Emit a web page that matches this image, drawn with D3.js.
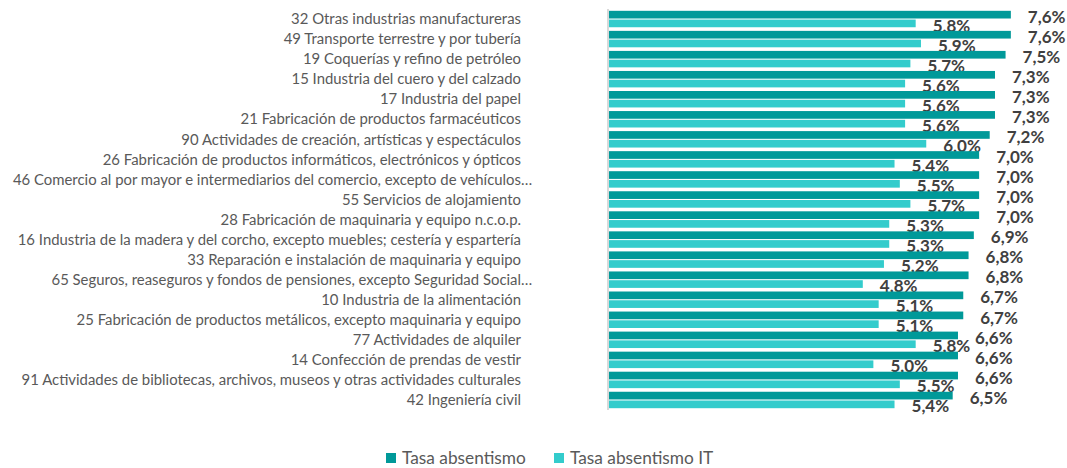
<!DOCTYPE html>
<html>
<head>
<meta charset="utf-8">
<script src="https://cdn.jsdelivr.net/npm/d3@7"></script>
<style>
  body { margin: 0; background: #fff; }
  svg { display: block; font-family: Lato, "Open Sans", sans-serif; }
</style>
</head>
<body>
<svg id="chart" width="1067" height="468"></svg>
<script>
'use strict';

var categories = [
    "32 Otras industrias manufactureras",
    "49 Transporte terrestre y por tubería",
    "19 Coquerías y refino de petróleo",
    "15 Industria del cuero y del calzado",
    "17 Industria del papel",
    "21 Fabricación de productos farmacéuticos",
    "90 Actividades de creación, artísticas y espectáculos",
    "26 Fabricación de productos informáticos, electrónicos y ópticos",
    "46 Comercio al por mayor e intermediarios del comercio, excepto de vehículos…",
    "55 Servicios de alojamiento",
    "28 Fabricación de maquinaria y equipo n.c.o.p.",
    "16 Industria de la madera y del corcho, excepto muebles; cestería y espartería",
    "33 Reparación e instalación de maquinaria y equipo",
    "65 Seguros, reaseguros y fondos de pensiones, excepto Seguridad Social…",
    "10 Industria de la alimentación",
    "25 Fabricación de productos metálicos, excepto maquinaria y equipo",
    "77 Actividades de alquiler",
    "14 Confección de prendas de vestir",
    "91 Actividades de bibliotecas, archivos, museos y otras actividades culturales",
    "42 Ingeniería civil"
];

var tasaAbsentismo = [7.6, 7.6, 7.5, 7.3, 7.3, 7.3, 7.2, 7.0, 7.0, 7.0, 7.0, 6.9, 6.8, 6.8, 6.7, 6.7, 6.6, 6.6, 6.6, 6.5];
var tasaAbsentismoIT = [5.8, 5.9, 5.7, 5.6, 5.6, 5.6, 6.0, 5.4, 5.5, 5.7, 5.3, 5.3, 5.2, 4.8, 5.1, 5.1, 5.8, 5.0, 5.5, 5.4];

var seriesNames = ["Tasa absentismo", "Tasa absentismo IT"];
var seriesColors = ["#009999", "#33cccc"];

var svg = d3.select("#chart");

var x = d3.scaleLinear().domain([0, 8]).range([609, 1032]);
var y = d3.scaleBand().domain(categories).range([9, 410]).paddingInner(0.18).paddingOuter(0.09);
var ySub = d3.scaleBand().domain([0, 1]).range([0, y.bandwidth()]).paddingInner(0.12);

var rows = categories.map(function(c, i) {
    return {cat: c, values: [tasaAbsentismo[i], tasaAbsentismoIT[i]]};
});

var fmt = function(v) { return d3.format(".1f")(v).replace(".", ",") + "%"; };

// category labels
var labelX = 521;
var catG = svg.append("g");
rows.forEach(function(r) {
    var cy = y(r.cat) + y.bandwidth() / 2;
    var hasEllipsis = r.cat.slice(-1) === "…";
    var txt = hasEllipsis ? r.cat.slice(0, -1) : r.cat;
    catG.append("text")
        .attr("x", labelX)
        .attr("y", cy)
        .attr("dy", "0.35em")
        .attr("text-anchor", "end")
        .attr("fill", "#595959")
        .attr("font-size", "14.9px")
        .text(txt);
    if (hasEllipsis) {
        catG.append("text")
            .attr("x", labelX)
            .attr("y", cy)
            .attr("dy", "0.35em")
            .attr("fill", "#595959")
            .attr("font-size", "14.9px")
            .text("…");
    }
});

// bars
var groups = svg.append("g").selectAll("g.row")
    .data(rows)
    .enter().append("g")
    .attr("class", "row")
    .attr("transform", function(d) { return "translate(0," + y(d.cat) + ")"; });

groups.selectAll("rect")
    .data(function(d) { return d.values; })
    .enter().append("rect")
    .attr("x", x(0))
    .attr("y", function(d, i) { return ySub(i); })
    .attr("width", function(d) { return x(d) - x(0); })
    .attr("height", ySub.bandwidth())
    .attr("fill", function(d, i) { return seriesColors[i]; });

groups.selectAll("text")
    .data(function(d) { return d.values; })
    .enter().append("text")
    .attr("x", function(d) { return x(d) + 17; })
    .attr("y", function(d, i) { return ySub(i) + ySub.bandwidth() / 2 + 2; })
    .attr("dy", "0.36em")
    .attr("fill", "#404040")
    .attr("font-weight", "bold")
    .attr("font-size", "17px")
    .text(fmt);

// vertical axis line
var yAxis = d3.axisLeft(y).tickSize(0).tickFormat("");
svg.append("g")
    .attr("transform", "translate(" + (x(0) - 1) + ",0)")
    .call(yAxis)
    .call(function(g) {
        g.select(".domain").attr("stroke", "#d9d9d9").attr("stroke-width", 2)
            .attr("d", "M0,9V410");
    });

// legend
var legendItems = [{x: 386}, {x: 554}];
var legend = svg.append("g");
seriesNames.forEach(function(name, i) {
    legend.append("rect")
        .attr("x", legendItems[i].x)
        .attr("y", 453)
        .attr("width", 10)
        .attr("height", 10)
        .attr("fill", seriesColors[i]);
    legend.append("text")
        .attr("x", legendItems[i].x + 16)
        .attr("y", 458)
        .attr("dy", "0.36em")
        .attr("fill", "#595959")
        .attr("font-size", "17.3px")
        .text(name);
});
</script>
</body>
</html>
